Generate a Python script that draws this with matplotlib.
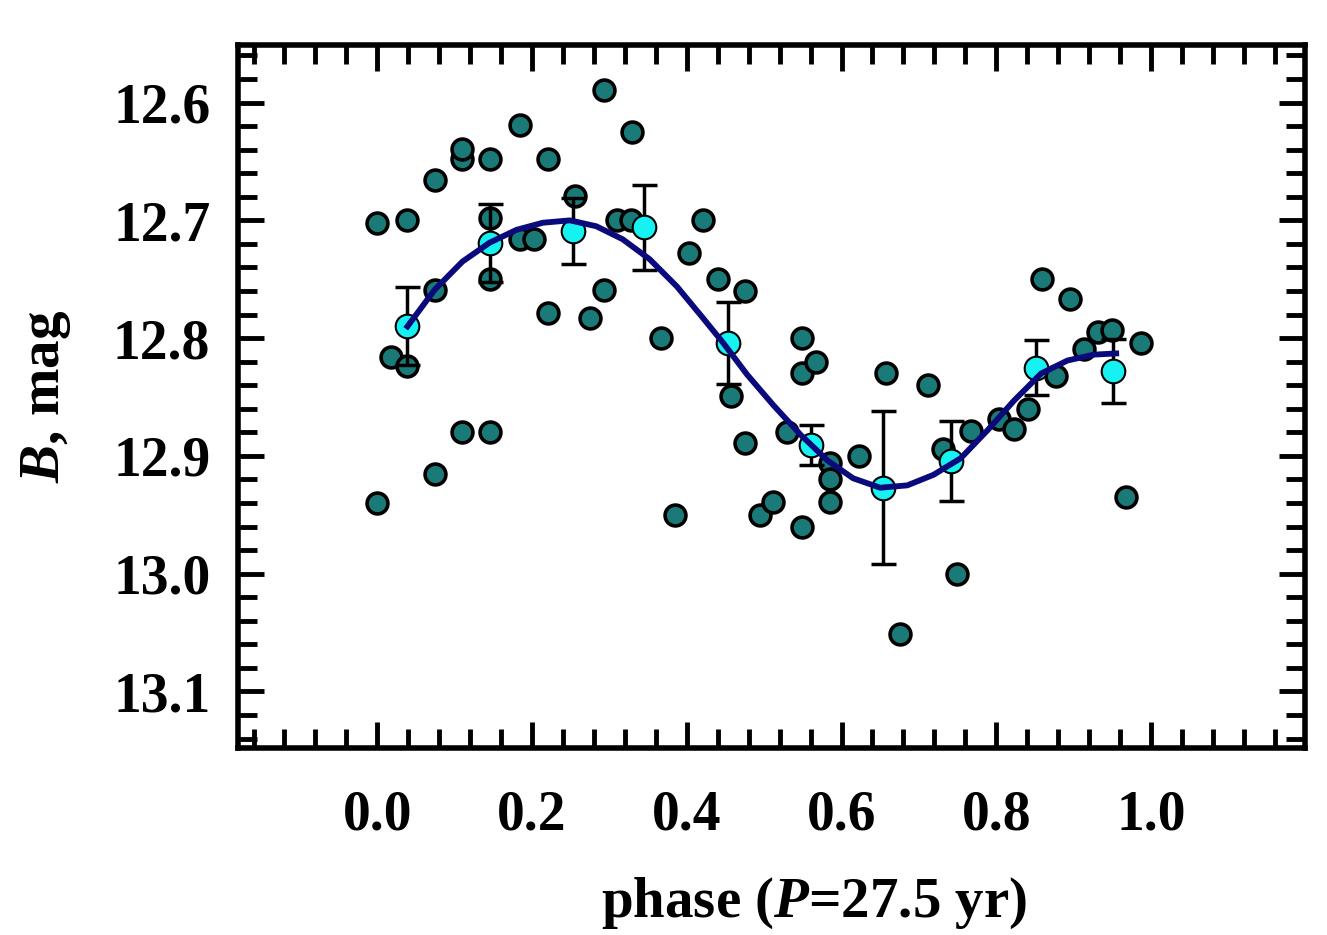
import matplotlib
matplotlib.use("Agg")
import matplotlib.pyplot as plt
from matplotlib.ticker import MultipleLocator, FixedLocator, FormatStrFormatter

# individual B observations folded on the period
phase_obs = [0.000, 0.000, 0.018, 0.038, 0.038, 0.074, 0.074, 0.074, 0.110, 0.110,
             0.110, 0.146, 0.146, 0.146, 0.146, 0.184, 0.184, 0.202, 0.220, 0.220,
             0.256, 0.275, 0.293, 0.293, 0.310, 0.328, 0.329, 0.367, 0.385, 0.403,
             0.421, 0.440, 0.457, 0.475, 0.475, 0.494, 0.512, 0.530, 0.549, 0.549,
             0.549, 0.567, 0.585, 0.585, 0.585, 0.622, 0.658, 0.676, 0.712, 0.731,
             0.749, 0.767, 0.804, 0.823, 0.841, 0.859, 0.877, 0.895, 0.913, 0.931,
             0.949, 0.968, 0.987]
mag_obs = [12.940, 12.702, 12.816, 12.824, 12.700, 12.666, 12.759, 12.915, 12.648, 12.639,
           12.880, 12.648, 12.698, 12.750, 12.880, 12.619, 12.716, 12.716, 12.648, 12.779,
           12.679, 12.783, 12.589, 12.759, 12.700, 12.700, 12.625, 12.800, 12.950, 12.728,
           12.700, 12.750, 12.849, 12.760, 12.889, 12.950, 12.939, 12.880, 12.800, 12.830,
           12.960, 12.820, 12.906, 12.920, 12.939, 12.900, 12.830, 13.051, 12.840, 12.894,
           13.000, 12.879, 12.869, 12.877, 12.860, 12.750, 12.832, 12.767, 12.809, 12.795,
           12.793, 12.935, 12.804]

# binned means with errors
phase_bin = [0.038, 0.146, 0.253, 0.345, 0.453, 0.561, 0.653, 0.741, 0.851, 0.951]
mag_bin = [12.790, 12.719, 12.709, 12.706, 12.804, 12.891, 12.927, 12.904, 12.825, 12.828]
err_bin = [0.033, 0.033, 0.028, 0.036, 0.035, 0.017, 0.065, 0.034, 0.023, 0.027]

# fitted curve
phase_fit = [0.039, 0.074, 0.110, 0.145, 0.180, 0.214, 0.249, 0.283, 0.317, 0.352,
             0.387, 0.421, 0.447, 0.478, 0.512, 0.547, 0.582, 0.615, 0.650, 0.685,
             0.719, 0.754, 0.789, 0.823, 0.858, 0.892, 0.926, 0.955]
mag_fit = [12.790, 12.759, 12.735, 12.719, 12.708, 12.702, 12.700, 12.705, 12.716, 12.733,
           12.756, 12.783, 12.804, 12.831, 12.857, 12.882, 12.904, 12.919, 12.927, 12.925,
           12.916, 12.902, 12.878, 12.853, 12.830, 12.819, 12.814, 12.813]

x_major = [0.0, 0.2, 0.4, 0.6, 0.8, 1.0]

plt.rcParams['font.family'] = ['Liberation Serif', 'DejaVu Serif']
plt.rcParams['font.weight'] = 'bold'
plt.rcParams['mathtext.fontset'] = 'custom'
plt.rcParams['mathtext.it'] = 'Liberation Serif:italic:bold'
plt.rcParams['mathtext.rm'] = 'Liberation Serif:bold'

fig = plt.figure(figsize=(13.27, 9.35), dpi=100)
ax = fig.add_axes([0.1794, 0.2, 0.804, 0.752])

ax.plot(phase_obs, mag_obs, 'o', ms=15, mfc='#1a7a78', mec='black', mew=2.6, zorder=2)
ax.errorbar(phase_bin, mag_bin, yerr=err_bin, fmt='none', ecolor='black',
            elinewidth=2.5, capsize=9, capthick=2.5, zorder=3)
ax.plot(phase_bin, mag_bin, 'o', ms=17, mfc='#16f2f2', mec='black', mew=1.5, zorder=4)
ax.plot(phase_fit, mag_fit, '-', color='#0a0a7c', lw=4.2, zorder=5,
        solid_joinstyle='round')

ax.set_xlim(-0.18, 1.199)
ax.set_ylim(13.148, 12.551)

ax.xaxis.set_major_locator(FixedLocator(x_major))
ax.xaxis.set_minor_locator(MultipleLocator(0.04))
ax.yaxis.set_major_locator(MultipleLocator(0.1))
ax.yaxis.set_minor_locator(MultipleLocator(0.02))
ax.xaxis.set_major_formatter(FormatStrFormatter('%.1f'))
ax.yaxis.set_major_formatter(FormatStrFormatter('%.1f'))

ax.tick_params(which='both', direction='in', top=True, right=True, width=3.5, labelsize=40)
ax.tick_params(which='major', length=19)
ax.tick_params(which='minor', length=14)
ax.tick_params(axis='x', pad=30)
ax.tick_params(axis='y', pad=20)
for s in ax.spines.values():
    s.set_linewidth(4)

ax.set_xlabel(r'phase ($P$=27.5 yr)', fontsize=41, fontweight='bold')
ax.set_ylabel(r'$B$, mag', fontsize=41, fontweight='bold')
ax.xaxis.set_label_coords(0.54, -0.181)
ax.yaxis.set_label_coords(-0.155, 0.5)

fig.savefig('out.png', dpi=100)
